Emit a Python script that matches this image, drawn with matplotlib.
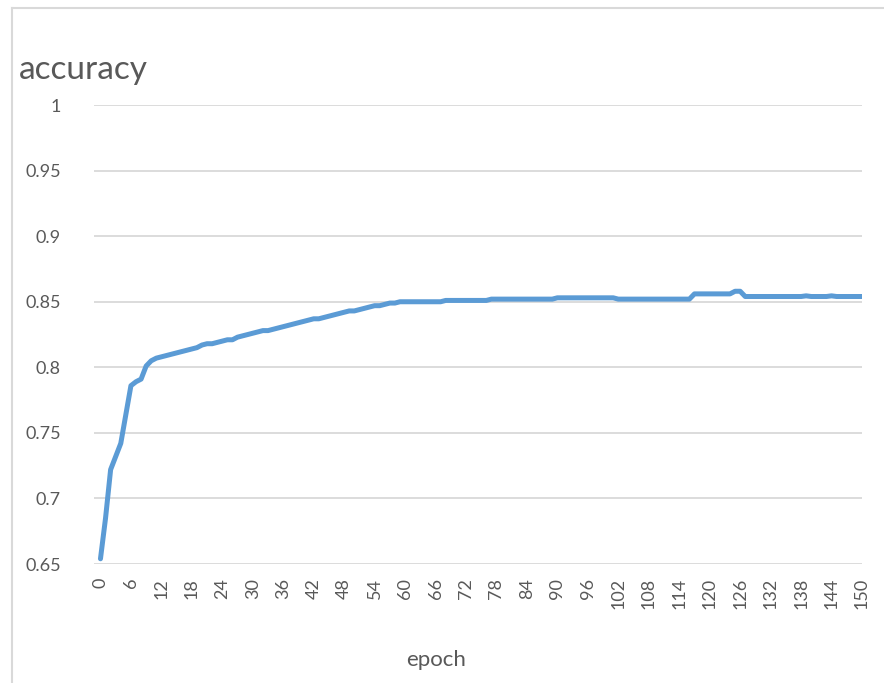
#!/usr/bin/env python3
"""
Training accuracy per epoch, drawn in an Excel-like style.
"""
import matplotlib
matplotlib.use('Agg')
import matplotlib.pyplot as plt
from matplotlib.lines import Line2D

plt.rcParams['font.family'] = ['Lato', 'DejaVu Sans']

# accuracy, one value per epoch (0..150)
accuracy = [
    0.654, 0.685, 0.722, 0.732, 0.742, 0.764, 0.786, 0.789, 0.791, 0.801,  # 0-9
    0.805, 0.807, 0.808, 0.809, 0.810, 0.811, 0.812, 0.813, 0.814, 0.815,  # 10-19
    0.817, 0.818, 0.818, 0.819, 0.820, 0.821, 0.821, 0.823, 0.824, 0.825,  # 20-29
    0.826, 0.827, 0.828, 0.828, 0.829, 0.830, 0.831, 0.832, 0.833, 0.834,  # 30-39
    0.835, 0.836, 0.837, 0.837, 0.838, 0.839, 0.840, 0.841, 0.842, 0.843,  # 40-49
    0.843, 0.844, 0.845, 0.846, 0.847, 0.847, 0.848, 0.849, 0.849, 0.850,  # 50-59
    0.850, 0.850, 0.850, 0.850, 0.850, 0.850, 0.850, 0.850, 0.851, 0.851,  # 60-69
    0.851, 0.851, 0.851, 0.851, 0.851, 0.851, 0.851, 0.852, 0.852, 0.852,  # 70-79
    0.852, 0.852, 0.852, 0.852, 0.852, 0.852, 0.852, 0.852, 0.852, 0.852,  # 80-89
    0.853, 0.853, 0.853, 0.853, 0.853, 0.853, 0.853, 0.853, 0.853, 0.853,  # 90-99
    0.853, 0.853, 0.852, 0.852, 0.852, 0.852, 0.852, 0.852, 0.852, 0.852,  # 100-109
    0.852, 0.852, 0.852, 0.852, 0.852, 0.852, 0.852, 0.856, 0.856, 0.856,  # 110-119
    0.856, 0.856, 0.856, 0.856, 0.856, 0.858, 0.858, 0.854, 0.854, 0.854,  # 120-129
    0.854, 0.854, 0.854, 0.854, 0.854, 0.854, 0.854, 0.854, 0.854, 0.8545,  # 130-139
    0.854, 0.854, 0.854, 0.854, 0.8545, 0.854, 0.854, 0.854, 0.854, 0.854,  # 140-149
    0.854,                                                                 # 150
]
epochs = list(range(len(accuracy)))
xtick_epochs = list(range(0, 151, 6))
ytick_values = [0.65, 0.7, 0.75, 0.8, 0.85, 0.9, 0.95, 1.0]
ytick_labels = ['0.65', '0.7', '0.75', '0.8', '0.85', '0.9', '0.95', '1']

LINE = '#5B9BD5'
GRID = '#D9D9D9'
TEXT = '#595959'


def main():
    fig = plt.figure(figsize=(8.84, 6.83), dpi=100)
    ax = fig.add_axes([0.1063, 0.1742, 0.8688, 0.6720])

    ax.plot(epochs, accuracy, color=LINE, lw=3.6,
            solid_capstyle='round', solid_joinstyle='round', zorder=3)

    ax.set_xlim(-1.28, 150)
    ax.set_ylim(0.65, 1.0)
    ax.set_yticks(ytick_values)
    ax.set_yticklabels(ytick_labels)
    ax.set_xticks(xtick_epochs)
    ax.set_xticklabels([str(e) for e in xtick_epochs], rotation=90)

    ax.grid(axis='y', color=GRID, lw=1.3)
    ax.set_axisbelow(True)
    for s in ax.spines.values():
        s.set_visible(False)
    ax.tick_params(axis='both', length=0, labelsize=13, colors=TEXT)
    ax.tick_params(axis='y', pad=24)
    ax.tick_params(axis='x', pad=10)

    # chart frame (left and top edges only are visible)
    fig.add_artist(Line2D([12 / 884, 12 / 884], [0, 1 - 8 / 683],
                          transform=fig.transFigure, color=GRID, lw=1.5))
    fig.add_artist(Line2D([12 / 884, 1], [1 - 8 / 683, 1 - 8 / 683],
                          transform=fig.transFigure, color=GRID, lw=1.5))

    fig.text(19 / 884, 1 - 79 / 683, 'accuracy', fontsize=24, color=TEXT,
             ha='left', va='baseline')
    fig.text(436 / 884, 1 - 660 / 683, 'epoch', fontsize=16, color=TEXT,
             ha='center', va='center')

    fig.savefig('out.png', dpi=100, facecolor='white')


if __name__ == '__main__':
    main()
